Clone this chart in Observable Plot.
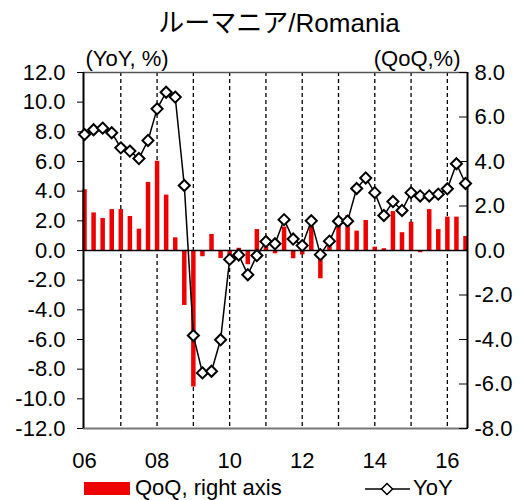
<!DOCTYPE html>
<html>
<head>
<meta charset="utf-8">
<script src="https://cdn.jsdelivr.net/npm/d3@7"></script>
<script src="https://cdn.jsdelivr.net/npm/@observablehq/plot@0.6"></script>
<style>
  body { margin: 0; background: #fff; }
  #wrap { position: relative; width: 528px; height: 500px; overflow: hidden; font-family: "Liberation Sans", Arial, "Noto Sans CJK JP", sans-serif; color: #000; }
  #title { position: absolute; top: 10px; left: 30px; width: 498px; text-align: center; font-size: 26px; line-height: 26px; white-space: nowrap; }
  #chart { position: absolute; top: 40px; left: 0; }
  .lg { position: absolute; font-size: 22px; line-height: 22px; white-space: nowrap; }
</style>
</head>
<body>
<div id="wrap">
  <div id="title">ルーマニア/Romania</div>
  <div id="chart"></div>
  <div class="lg" id="lgBar" style="left:84px; top:482px; width:46px; height:13px;"></div>
  <div class="lg" id="lgBarText" style="left:135px; top:477px;"></div>
  <svg class="lg" id="lgLine" style="left:364px; top:478px;" width="48" height="22"></svg>
  <div class="lg" id="lgLineText" style="left:413px; top:477px;"></div>
</div>
<script>
// ---- data ----
const startYear = 2006;
const quarterCount = 43; // 2006Q1 .. 2016Q3
const quarters = d3.range(quarterCount).map(i => `${startYear + Math.floor(i / 4)}Q${(i % 4) + 1}`);

// YoY real GDP growth, % (left axis)
const yoy = [
  7.82, 8.14, 8.25, 7.94,
  6.92, 6.70, 6.20, 7.42,
  9.55, 10.67, 10.34, 4.38,
  -5.73, -8.25, -8.14, -6.02,
  -0.60, -0.30, -1.63, -0.34,
  0.60, 0.45, 2.08, 0.77,
  0.33, 2.00, -0.28, 0.63,
  1.97, 1.98, 4.18, 4.89,
  3.90, 2.36, 3.30, 2.70,
  3.90, 3.68, 3.68, 3.80,
  4.16, 5.85, 4.52
];
// QoQ real GDP growth, % (right axis)
const qoq = [
  2.73, 1.69, 1.44, 1.84,
  1.84, 1.53, 0.96, 3.06,
  4.01, 2.49, 0.57, -2.47,
  -6.14, -0.28, 0.72, -0.36,
  -0.30, 0.10, -0.64, 0.94,
  0.60, -0.15, 1.05, -0.37,
  -0.20, 1.05, -1.27, 0.33,
  1.12, 1.57, 0.87, 1.35,
  0.15, 0.08, 1.75, 0.80,
  1.27, -0.10, 1.84, 0.94,
  1.50, 1.50, 0.63
];

const leftTicks = d3.range(-12, 12.001, 2);
const rightTicks = d3.range(-8, 8.001, 2);
const xLabelYears = [2006, 2008, 2010, 2012, 2014, 2016];
const gridYears = [2007, 2008, 2009, 2010, 2011, 2012, 2013, 2014, 2015, 2016];

const titleText = "ルーマニア/Romania";
const leftUnit = "(YoY, %)";
const rightUnit = "(QoQ,%)";
const barLegend = "QoQ, right axis";
const lineLegend = "YoY";

const barColor = "#ee0000";
const scaleRatio = 12 / 8; // right axis -> left axis units

const data = quarters.map((q, i) => ({
  t: +q.slice(0, 4) + (+q.slice(5) - 1) / 4,
  yoy: yoy[i],
  qoq: qoq[i]
}));

const xDomain = [2005.972, 2016.555];
const yDomain = [-12, 12];

const chart = Plot.plot({
  width: 528,
  height: 440,
  marginTop: 32,
  marginBottom: 52,
  marginLeft: 83,
  marginRight: 61,
  style: { fontFamily: "Liberation Sans, Arial, sans-serif", fontSize: "22px", color: "#000", background: "#fff", overflow: "visible" },
  x: { type: "linear", domain: xDomain },
  y: { domain: yDomain },
  marks: [
    Plot.ruleX(gridYears, { stroke: "#000", strokeWidth: 1.3, strokeDasharray: "4,3" }),
    Plot.ruleX(data, { x: "t", y1: 0, y2: d => d.qoq * scaleRatio, stroke: barColor, strokeWidth: 4.5 }),
    Plot.ruleY([0], { stroke: "#000", strokeWidth: 1.5 }),
    Plot.ruleY([yDomain[1]], { stroke: "#555", strokeWidth: 1.5 }),
    Plot.ruleY([yDomain[0]], { stroke: "#777", strokeWidth: 2 }),
    Plot.ruleX([xDomain[0]], { stroke: "#000", strokeWidth: 2 }),
    Plot.ruleX([xDomain[1]], { stroke: "#000", strokeWidth: 2 }),
    Plot.line(data, { x: "t", y: "yoy", stroke: "#000", strokeWidth: 1.5 }),
    Plot.dot(data, { x: "t", y: "yoy", symbol: "diamond2", r: 5, fill: "#fff", stroke: "#000", strokeWidth: 2 }),
    Plot.axisY(leftTicks, { anchor: "left", tickSize: 6, tickPadding: 12, tickFormat: d => d.toFixed(1), label: null }),
    Plot.axisY(rightTicks.map(v => v * scaleRatio), { anchor: "right", tickSize: -9, tickPadding: 16, tickFormat: d => (d / scaleRatio).toFixed(1), label: null }),
    Plot.axisX(xLabelYears, { anchor: "bottom", tickSize: 0, tickPadding: 24, tickFormat: d => String(d).slice(2), label: null }),
    Plot.text([leftUnit], { frameAnchor: "top-left", text: d => d, textAnchor: "start", dx: 2, dy: -22.5, fontSize: 22 }),
    Plot.text([rightUnit], { frameAnchor: "top-right", text: d => d, textAnchor: "end", dx: -7, dy: -22.5, fontSize: 22 })
  ]
});
document.getElementById("chart").appendChild(chart);

// legend
document.getElementById("title").textContent = titleText;
document.getElementById("lgBar").style.background = barColor;
document.getElementById("lgBarText").textContent = barLegend;
document.getElementById("lgLineText").textContent = lineLegend;
const lg = d3.select("#lgLine");
lg.append("line").attr("x1", 1).attr("x2", 46).attr("y1", 11).attr("y2", 11).attr("stroke", "#000").attr("stroke-width", 1.5);
lg.append("path").attr("d", d3.symbol(d3.symbolDiamond2, Math.PI * 25)()).attr("transform", "translate(23,11)")
  .attr("fill", "#fff").attr("stroke", "#000").attr("stroke-width", 1.5);
</script>
</body>
</html>
